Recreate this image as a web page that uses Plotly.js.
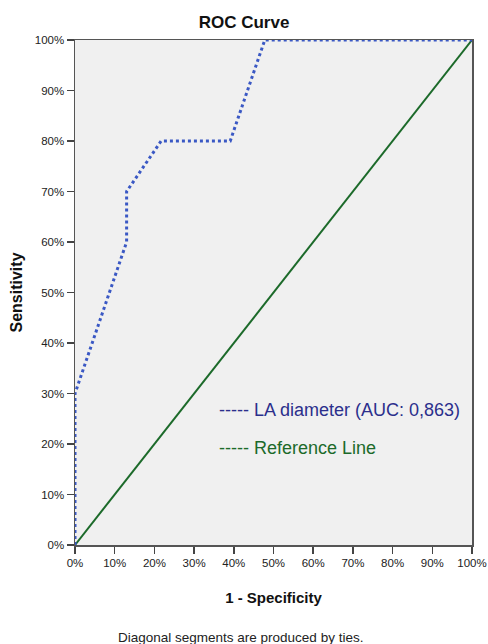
<!DOCTYPE html>
<html>
<head>
<meta charset="utf-8">
<script src="https://cdn.plot.ly/plotly-3.0.1.min.js"></script>
<style>html,body{margin:0;padding:0;background:#fff;}#chart{width:488px;height:644px;}</style>
</head>
<body>
<div id="chart"></div>
<script>
// ROC curve points (1 - Specificity, Sensitivity)
var fpr = [0, 0, 0.13, 0.13, 0.217, 0.391, 0.478, 1];
var tpr = [0, 0.3, 0.6, 0.7, 0.8, 0.8, 1, 1];
// Reference line
var refX = [0, 1];
var refY = [0, 1];
var tickVals = [0, 0.1, 0.2, 0.3, 0.4, 0.5, 0.6, 0.7, 0.8, 0.9, 1];
var tickText = ["0%", "10%", "20%", "30%", "40%", "50%", "60%", "70%", "80%", "90%", "100%"];
var legendLabels = ["----- LA diameter (AUC: 0,863)", "----- Reference Line"];

var font = "Liberation Sans, Arial, sans-serif";
var traces = [
  {x: refX, y: refY, mode: "lines", line: {color: "#1c6a2a", width: 2}, hoverinfo: "skip", cliponaxis: false},
  {x: fpr, y: tpr, mode: "lines", line: {color: "#3a58c4", width: 3, dash: "dot"}, hoverinfo: "skip", cliponaxis: false}
];
var axisCommon = {
  range: [0, 1], tickvals: tickVals, ticktext: tickText, showgrid: false, zeroline: false,
  showline: true, linecolor: "#555", linewidth: 1.5, mirror: true,
  ticks: "outside", ticklen: 7, tickwidth: 1.5, tickcolor: "#444",
  ticklabeloverflow: "allow",
  tickfont: {family: font, size: 11.5, color: "#222"}, fixedrange: true
};
var layout = {
  width: 488, height: 644,
  margin: {l: 75, r: 16, t: 40, b: 99},
  paper_bgcolor: "#ffffff", plot_bgcolor: "#f0f0f0",
  showlegend: false,
  title: {text: "<b>ROC Curve</b>", font: {family: font, size: 17, color: "#111"}, x: 0.5, xanchor: "center", y: 0.965, yanchor: "middle"},
  xaxis: Object.assign({}, axisCommon, {title: {text: "<b>1 - Specificity</b>", font: {family: font, size: 15, color: "#111"}, standoff: 24}}),
  yaxis: Object.assign({}, axisCommon, {title: {text: "<b>Sensitivity</b>", font: {family: font, size: 16, color: "#111"}, standoff: 8}}),
  annotations: [
    {x: 0.358, y: 0.267, xref: "x", yref: "y", xanchor: "left", yanchor: "middle", showarrow: false,
     text: legendLabels[0], font: {family: font, size: 18, color: "#2b2f8c"}},
    {x: 0.358, y: 0.193, xref: "x", yref: "y", xanchor: "left", yanchor: "middle", showarrow: false,
     text: legendLabels[1], font: {family: font, size: 18, color: "#1c6a2a"}},
    {x: 0.418, y: -0.183, xref: "paper", yref: "paper", yanchor: "middle", xanchor: "center", showarrow: false,
     text: "Diagonal segments are produced by ties.", font: {family: font, size: 13.5, color: "#222"}}
  ]
};
Plotly.newPlot("chart", traces, layout, {staticPlot: true, displayModeBar: false});
</script>
</body>
</html>
